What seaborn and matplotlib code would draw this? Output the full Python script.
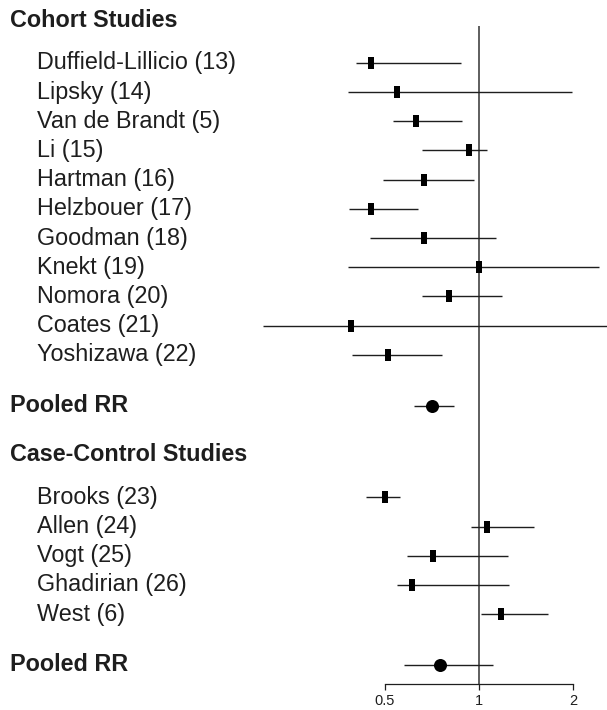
import numpy as np
import pandas as pd
import matplotlib
matplotlib.use("Agg")
import matplotlib.pyplot as plt
from matplotlib.path import Path
from matplotlib.ticker import FixedLocator, FixedFormatter, NullLocator
import seaborn as sns

# --- data ----------------------------------------------------------------
cohort_title = "Cohort Studies"
cohort_studies = [
    "Duffield-Lillicio (13)", "Lipsky (14)", "Van de Brandt (5)", "Li (15)",
    "Hartman (16)", "Helzbouer (17)", "Goodman (18)", "Knekt (19)",
    "Nomora (20)", "Coates (21)", "Yoshizawa (22)",
]
cohort_rr = [0.452, 0.549, 0.630, 0.933, 0.669, 0.452, 0.669, 1.000, 0.805, 0.390, 0.514]
cohort_lo = [0.405, 0.383, 0.531, 0.657, 0.496, 0.385, 0.449, 0.383, 0.659, 0.204, 0.393]
cohort_hi = [0.876, 1.980, 0.883, 1.063, 0.968, 0.641, 1.136, 2.420, 1.190, 2.800, 0.762]
cohort_pooled = [0.709, 0.622, 0.836]   # RR, lower, upper

case_title = "Case-Control Studies"
case_studies = ["Brooks (23)", "Allen (24)", "Vogt (25)", "Ghadirian (26)", "West (6)"]
case_rr = [0.500, 1.065, 0.715, 0.612, 1.176]
case_lo = [0.435, 0.947, 0.591, 0.549, 1.019]
case_hi = [0.560, 1.505, 1.243, 1.253, 1.661]
case_pooled = [0.754, 0.578, 1.111]

pooled_label = "Pooled RR"
tick_values = [0.5, 1, 2]
tick_labels = ["0.5", "1", "2"]

# --- layout (in row units, top to bottom) ---------------------------------
GAP_HEADER = 1.45    # header -> first study
GAP_POOLED = 1.74    # last study -> pooled estimate
GAP_SECTION = 1.69   # pooled estimate -> next header

rows = []
y = 0.0
for title, names, rr, lo, hi, pooled in [
    (cohort_title, cohort_studies, cohort_rr, cohort_lo, cohort_hi, cohort_pooled),
    (case_title, case_studies, case_rr, case_lo, case_hi, case_pooled),
]:
    if rows:
        y += GAP_SECTION
    rows.append(dict(label=title, kind="header", rr=np.nan, lo=np.nan, hi=np.nan, y=y))
    y += GAP_HEADER
    for i, (n, r, l, h) in enumerate(zip(names, rr, lo, hi)):
        if i:
            y += 1.0
        rows.append(dict(label=n, kind="study", rr=r, lo=l, hi=h, y=y))
    y += GAP_POOLED
    rows.append(dict(label=pooled_label, kind="pooled",
                     rr=pooled[0], lo=pooled[1], hi=pooled[2], y=y))
df = pd.DataFrame(rows)

# --- figure --------------------------------------------------------------
sns.set_theme(style="ticks")
plt.rcParams["font.family"] = ["Liberation Sans", "DejaVu Sans"]

W, H = 607, 710
fig = plt.figure(figsize=(W / 100, H / 100), dpi=100)
row_px = 29.2
top_px, axis_px = 26, 684
header_px = 20.5
ax = fig.add_axes([0, (H - axis_px) / H, 1, (axis_px - top_px) / H])

ink = "#1e1e1e"
ax.set_xscale("log", base=2)
x_ref_px, octave_px = 478.7, 94.2
ax.set_xlim(2 ** (-x_ref_px / octave_px), 2 ** ((W - x_ref_px) / octave_px))
ax.set_ylim(df["y"].iloc[-1] + (axis_px - (header_px + df["y"].iloc[-1] * row_px)) / row_px,
            (top_px - header_px) / row_px)

# reference line at RR = 1
ax.axvline(1, color="#333333", lw=1.1, zorder=1)

# confidence intervals
marks = df[df["kind"] != "header"]
ax.hlines(marks["y"], marks["lo"], marks["hi"], color=ink, lw=1.0, zorder=2)

# point estimates: thin bars for studies, dots for pooled
hw = 0.21
bar = Path([(-hw, -0.5), (hw, -0.5), (hw, 0.5), (-hw, 0.5), (-hw, -0.5)], closed=True)
sns.scatterplot(data=df[df["kind"] == "study"], x="rr", y="y", marker=bar, s=84,
                color="black", linewidth=0, ax=ax, zorder=3, legend=False)
sns.scatterplot(data=df[df["kind"] == "pooled"], x="rr", y="y", marker="o", s=88,
                color="black", linewidth=0, ax=ax, zorder=3, legend=False)

# row labels
trans = ax.get_yaxis_transform()
for _, r in df.iterrows():
    if r["kind"] == "study":
        ax.text(37 / W, r["y"], r["label"], transform=trans, ha="left", va="center",
                fontsize=16.8, color=ink, clip_on=False)
    else:
        ax.text(10 / W, r["y"], r["label"], transform=trans, ha="left", va="center",
                fontsize=16.8, fontweight="bold", color=ink, clip_on=False)

# axes styling
for s in ["top", "left", "right"]:
    ax.spines[s].set_visible(False)
ax.spines["bottom"].set_bounds(tick_values[0], tick_values[-1])
ax.spines["bottom"].set_color(ink)
ax.spines["bottom"].set_linewidth(0.9)
ax.xaxis.set_major_locator(FixedLocator(tick_values))
ax.xaxis.set_major_formatter(FixedFormatter(tick_labels))
ax.xaxis.set_minor_locator(NullLocator())
ax.tick_params(axis="x", length=4.3, width=0.9, color=ink, labelsize=10.5,
               labelcolor=ink, pad=3)
ax.set_yticks([])
ax.set_xlabel("")
ax.set_ylabel("")
ax.patch.set_alpha(0)

fig.savefig("out.png", dpi=100)
